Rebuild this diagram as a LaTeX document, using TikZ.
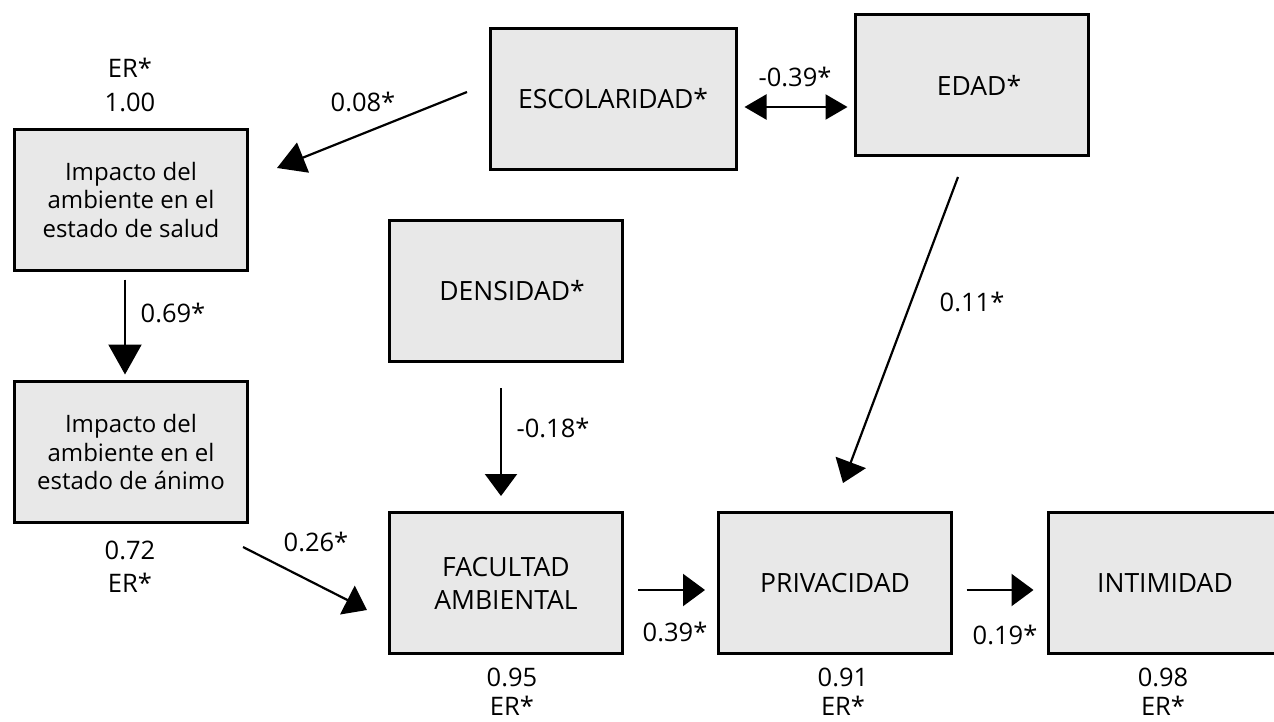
\documentclass[tikz,border=0pt]{standalone}
\usepackage{fontspec}
\setmainfont{Open Sans}
\usetikzlibrary{arrows.meta}
\definecolor{boxfill}{RGB}{232,232,232}
\begin{document}
\begin{tikzpicture}[x=1pt,y=-1pt,
  box/.style={draw, line width=3pt, fill=boxfill, minimum width=233pt, minimum height=141pt, align=center, inner sep=0pt, font=\fontsize{26.5}{33}\selectfont},
  smallbox/.style={box, font=\fontsize{24}{28.5}\selectfont},
  lbl/.style={font=\fontsize{25.5}{30}\selectfont, inner sep=0pt},
  arr/.style={line width=2.2pt, -{Triangle[length=22pt,width=32pt]}},
]
\useasboundingbox (0,0) rectangle (1274,722);
% boxes
\node[smallbox] (salud) at (131,200) {Impacto del\\ambiente en el\\estado de salud};
\node[smallbox] (animo) at (131,452) {Impacto del\\ambiente en el\\estado de ánimo};
\node[box, minimum width=246pt] (esc) at (613,99) {ESCOLARIDAD*};
\node[box] (edad) at (972,85) {\hspace*{14pt}EDAD*};
\node[box] (dens) at (506,291) {\hspace*{12pt}DENSIDAD*};
\node[box] (fac) at (506,583) {FACULTAD\\AMBIENTAL};
\node[box] (priv) at (835,583) {PRIVACIDAD};
\node[box] (inti) at (1165,583) {INTIMIDAD};
% free-end coordinates for diagonal arrows
\coordinate (a08s) at (467,92);
\coordinate (a08t) at (277,168);
\coordinate (a26s) at (243,547);
\coordinate (a26t) at (367,610);
\coordinate (a11s) at (958,177);
\coordinate (a11t) at (843,483);
% arrows
\draw[arr, -{Triangle[length=28pt,width=32pt]}] (a08s) -- (a08t);
\draw[line width=2.2pt, {Triangle[length=22pt,width=25pt]}-{Triangle[length=22pt,width=25pt]}, shorten <=7pt, shorten >=6.5pt]
  ([yshift=-8pt]esc.east) -- ([yshift=-8pt]esc.east -| edad.west);
\draw[arr, -{Triangle[length=30pt,width=33pt]}, shorten <=7.5pt, shorten >=5.5pt]
  ([xshift=-6pt]salud.south) -- ([xshift=-6pt]animo.north);
\draw[arr, shorten <=25pt, shorten >=15pt]
  ([xshift=-5pt]dens.south) -- ([xshift=-5pt]fac.north);
\draw[arr] (a26s) -- (a26t);
\draw[arr] (a11s) -- (a11t);
\draw[arr, shorten <=14pt, shorten >=12pt]
  ([yshift=-7pt]fac.east) -- ([yshift=-7pt]priv.west);
\draw[arr, shorten <=13.5pt, shorten >=13.5pt]
  ([yshift=-7pt]priv.east) -- ([yshift=-7pt]inti.west);
% labels
\node[lbl] (er1) at (130,68) {ER*};
\node[lbl] (v1) at (130,102) {1.00};
\node[lbl] (l08) at (363,102) {0.08*};
\node[lbl] (l39a) at (795,77) {-0.39*};
\node[lbl] (l69) at (173,313) {0.69*};
\node[lbl] (v72) at (130,550) {0.72};
\node[lbl] (er2) at (130,583) {ER*};
\node[lbl] (l26) at (316,542) {0.26*};
\node[lbl] (l18) at (553,428) {-0.18*};
\node[lbl] (l11) at (972,302) {0.11*};
\node[lbl] (l39) at (675,632) {0.39*};
\node[lbl] (l19) at (1005,635) {0.19*};
\node[lbl] (v95) at (512,677) {0.95};
\node[lbl] (er3) at (512,706) {ER*};
\node[lbl] (v91) at (843,677) {0.91};
\node[lbl] (er4) at (843,706) {ER*};
\node[lbl] (v98) at (1163,677) {0.98};
\node[lbl] (er5) at (1163,706) {ER*};
\end{tikzpicture}
\end{document}
